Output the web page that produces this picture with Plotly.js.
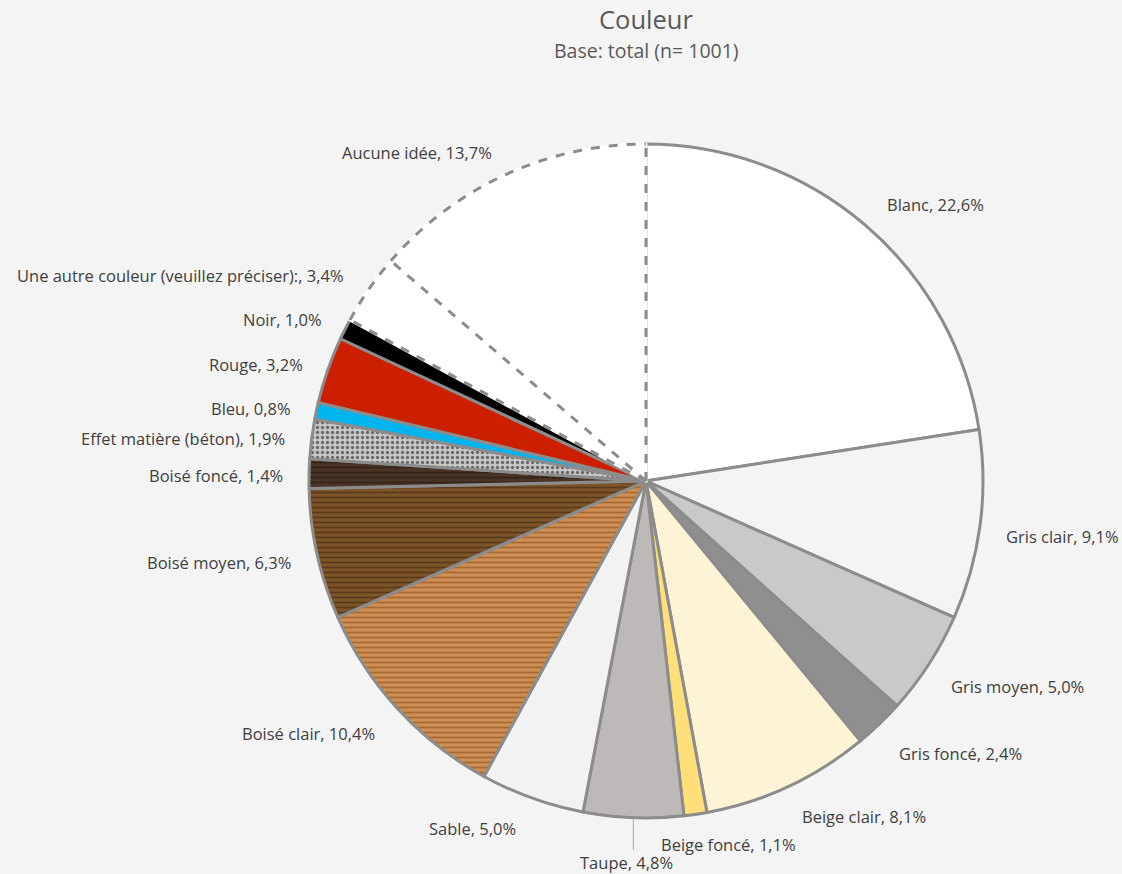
<!DOCTYPE html>
<html>
<head>
<meta charset="utf-8">
<script src="https://cdn.plot.ly/plotly-3.0.1.min.js"></script>
<style>html,body{margin:0;padding:0;background:#f4f4f4;}#chart{width:1122px;height:874px;}</style>
</head>
<body>
<div id="chart"></div>
<script>
// ---- data ----
const categories = ["Blanc","Gris clair","Gris moyen","Gris foncé","Beige clair","Beige foncé","Taupe","Sable","Boisé clair","Boisé moyen","Boisé foncé","Effet matière (béton)","Bleu","Rouge","Noir","Une autre couleur (veuillez préciser):","Aucune idée"];
const values = [22.6,9.1,5.0,2.4,8.1,1.1,4.8,5.0,10.4,6.3,1.4,1.9,0.8,3.2,1.0,3.4,13.7];
const sliceColors = ["#ffffff","#f4f4f4","#c9c9c9","#8f8f8f","#fff3d6","#ffdf7a","#bdb9b9","#f2f2f2","#cd8f55","#7d5428","#4a3427","#c8c8c8","#00b4ee","#cc1f00","#000000","#ffffff","#ffffff"];
const patternShapes = ["","","","","","","","","-","-","-",".","","","","",""];
const patternFg = ["#000","#000","#000","#000","#000","#000","#000","#000","#a8692f","#5a3a1c","#33241a","#6a6a6a","#000","#000","#000","#000","#000"];
const lineColors = ["#8c8c8c","#8c8c8c","#8c8c8c","#8c8c8c","#8c8c8c","#8c8c8c","#8c8c8c","#8c8c8c","#8c8c8c","#8c8c8c","#8c8c8c","#8c8c8c","#8c8c8c","#8c8c8c","#8c8c8c","#ffffff","#ffffff"];
const dashedSlices = ["Une autre couleur (veuillez préciser):","Aucune idée"];

// ---- layout geometry (pixels) ----
const W = 1122, H = 874;
const domX = [309/W, 983/W];
const domY = [1-818/H, 1-144/H];
// label anchor positions [x px, y px, xanchor]
const labelPos = [
  [885,205,"left"],[1004,536,"left"],[949,686,"left"],[897,753,"left"],[800,816,"left"],
  [659,844,"left"],[578,862,"left"],[518,828,"right"],[377,733,"right"],[293,562,"right"],
  [285,475,"right"],[287,438,"right"],[293,408,"right"],[305,364,"right"],[324,320,"right"],
  [346,275,"right"],[494,153,"right"]
];
const FONT = "'Open Sans', Lato, sans-serif";

function fmt(v){ return v.toFixed(1).replace(".", ","); }

const annotations = categories.map((c,i)=>({
  xref:"paper", yref:"paper",
  x: labelPos[i][0]/W, y: 1-labelPos[i][1]/H,
  xanchor: labelPos[i][2], yanchor:"middle",
  text: c + ", " + fmt(values[i]) + "%",
  showarrow:false,
  font:{family:FONT, size:16.5, color:"#404040"}
}));
annotations.push({
  xref:"paper", yref:"paper", x:646/W, y:1-50/H, xanchor:"center", yanchor:"middle",
  text:"Base: total (n= 1001)", showarrow:false,
  font:{family:FONT, size:19.5, color:"#595959"}
});

// geometry of the pie as Plotly computes it
const cx = (domX[0]+domX[1])/2*W;
const cy = (1-(domY[0]+domY[1])/2)*H;
const R = Math.min((domX[1]-domX[0])*W, (domY[1]-domY[0])*H)/2;
const total = values.reduce((a,b)=>a+b,0);
function pt(f, r){
  const t = 2*Math.PI*f;
  return [(cx + r*Math.sin(t))/W, 1-(cy - r*Math.cos(t))/H];
}
// dashed outline for the "unknown/other" slices
const shapes = [];
let cum = 0;
const starts = values.map(v=>{const s=cum; cum+=v; return s/total;});
const idxA = categories.indexOf(dashedSlices[0]);
const idxB = categories.indexOf(dashedSlices[1]);
const f0 = starts[idxA], f1 = starts[idxB], f2 = (starts[idxB]*total + values[idxB])/total;
function radial(f){
  const a = pt(f,0), b = pt(f,R);
  return {type:"line", xref:"paper", yref:"paper", x0:a[0], y0:a[1], x1:b[0], y1:b[1],
          line:{color:"#8c8c8c", width:3, dash:"dash"}};
}
shapes.push(radial(f0), radial(f1), radial(f2));
let p = "";
const N = 80;
for(let k=0;k<=N;k++){
  const f = f0 + (f2-f0)*k/N;
  const q = pt(f,R);
  p += (k===0?"M":"L") + q[0].toFixed(5) + "," + q[1].toFixed(5);
}
shapes.push({type:"path", xref:"paper", yref:"paper", path:p, line:{color:"#8c8c8c", width:3, dash:"dash"}});
// leader line for Taupe
const idxT = categories.indexOf("Taupe");
const fT = starts[idxT] + values[idxT]/total/2;
const lt = pt(fT, R);
shapes.push({type:"line", xref:"paper", yref:"paper", x0:lt[0], y0:lt[1], x1:lt[0], y1:1-850/H,
  line:{color:"#a6a6a6", width:1}});

const trace = {
  type:"pie",
  labels: categories,
  values: values,
  sort:false,
  direction:"clockwise",
  rotation:0,
  textinfo:"none",
  hoverinfo:"label+percent",
  domain:{x:domX, y:domY},
  marker:{
    colors: sliceColors,
    line:{color: lineColors, width:3},
    pattern:{shape: patternShapes, fgcolor: patternFg, bgcolor: sliceColors, size: 5, solidity: 0.35, fillmode:"replace"}
  },
  showlegend:false
};

const layout = {
  width:W, height:H,
  margin:{l:0,r:0,t:0,b:0},
  paper_bgcolor:"#f4f4f4",
  plot_bgcolor:"#f4f4f4",
  title:{text:"Couleur", x:646/W, xanchor:"center", y:1-20/H, yanchor:"middle",
         font:{family:FONT, size:25.5, color:"#595959"}},
  annotations: annotations,
  shapes: shapes,
  showlegend:false
};

Plotly.newPlot("chart", [trace], layout, {displayModeBar:false, staticPlot:true});
</script>
</body>
</html>
